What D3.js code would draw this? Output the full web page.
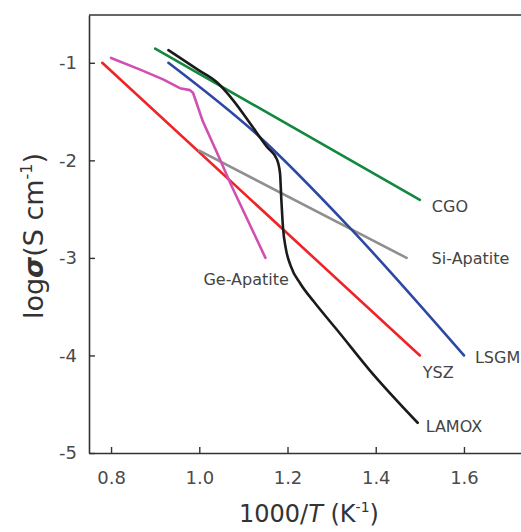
<!DOCTYPE html>
<html>
<head>
<meta charset="utf-8">
<script src="https://cdn.jsdelivr.net/npm/d3@7"></script>
<style>
  body { margin: 0; background: #fff; }
  svg { display: block; font-family: "DejaVu Sans", sans-serif; }
</style>
</head>
<body>
<div id="chart"></div>
<script>
// values: [1000/T, log sigma]
const ysz = [[0.78, -1.0], [1.5, -4.0]];
const cgo = [[0.9, -0.855], [1.5, -2.405]];
const lsgm = [[0.93, -1.0], [1.137, -1.76], [1.341, -2.69], [1.6, -4.0]];
const siApatite = [[1.0, -1.9], [1.47, -3.0]];
const geApatite = [
  [0.8, -0.95], [0.866, -1.07], [0.918, -1.17], [0.956, -1.26],
  [0.979, -1.28], [0.986, -1.31], [1.008, -1.6], [1.04, -1.92],
  [1.074, -2.27], [1.15, -3.0]
];
const lamox = [
  [0.93, -0.87], [1.0, -1.08], [1.04, -1.2], [1.076, -1.38],
  [1.115, -1.62], [1.153, -1.86], [1.176, -1.99], [1.183, -2.13],
  [1.186, -2.4], [1.19, -2.7], [1.196, -2.9], [1.207, -3.08],
  [1.23, -3.27], [1.26, -3.45], [1.318, -3.77], [1.386, -4.15],
  [1.495, -4.69]
];
const xTicks = [0.8, 1.0, 1.2, 1.4, 1.6];
const yTicks = [-1, -2, -3, -4, -5];

const series = [
  { name: "YSZ", data: ysz, color: "#ee2427", curve: d3.curveLinear, dx: 3, dy: 17 },
  { name: "CGO", data: cgo, color: "#11883d", curve: d3.curveLinear, dx: 12, dy: 7 },
  { name: "Si-Apatite", data: siApatite, color: "#8f8f8f", curve: d3.curveLinear, dx: 25, dy: 1 },
  { name: "Ge-Apatite", data: geApatite, color: "#d24fb2", curve: d3.curveLinear, dx: -62, dy: 22 },
  { name: "LSGM", data: lsgm, color: "#2d47a5", curve: d3.curveMonotoneX, dx: 11, dy: 2 },
  { name: "LAMOX", data: lamox, color: "#1a1a1a", curve: d3.curveMonotoneX, dx: 8, dy: 4 }
];

const W = 521, H = 532;
const svg = d3.select("#chart").append("svg")
  .attr("width", W)
  .attr("height", H);

const x = d3.scaleLinear().domain([0.75, 1.7293]).range([89, 521]);
const y = d3.scaleLinear().domain([-5, -0.51]).range([453, 15]);

// frame top line
svg.append("line")
  .attr("x1", x.range()[0]).attr("x2", x.range()[1])
  .attr("y1", y.range()[1]).attr("y2", y.range()[1])
  .attr("stroke", "#333").attr("stroke-width", 1.6);

const xAxis = svg.append("g")
  .attr("transform", `translate(0,${y.range()[0]})`)
  .call(d3.axisBottom(x).tickValues(xTicks).tickFormat(d3.format(".1f"))
    .tickSizeInner(-6).tickSizeOuter(0).tickPadding(18));

const yAxis = svg.append("g")
  .attr("transform", `translate(${x.range()[0]},0)`)
  .call(d3.axisLeft(y).tickValues(yTicks).tickFormat(d => String(d))
    .tickSizeInner(-6).tickSizeOuter(0).tickPadding(12));

[xAxis, yAxis].forEach(g => {
  g.select(".domain").attr("stroke", "#333").attr("stroke-width", 1.6);
  g.selectAll(".tick line").attr("stroke", "#333").attr("stroke-width", 1.4);
  g.selectAll(".tick text")
    .attr("fill", "#4a4a4a")
    .style("font-size", "18px")
    .style("font-family", "'DejaVu Sans', sans-serif");
});

const line = d3.line().x(d => x(d[0])).y(d => y(d[1]));

series.forEach(s => {
  svg.append("path")
    .datum(s.data)
    .attr("fill", "none")
    .attr("stroke", s.color)
    .attr("stroke-width", 2.6)
    .attr("stroke-linejoin", "round")
    .attr("stroke-linecap", "round")
    .attr("d", line.curve(s.curve));

  const last = s.data[s.data.length - 1];
  svg.append("text")
    .attr("x", x(last[0]) + s.dx)
    .attr("y", y(last[1]) + s.dy)
    .attr("dominant-baseline", "central")
    .attr("fill", "#444")
    .style("font-size", "16px")
    .text(s.name);
});

// axis titles
const xt = svg.append("text")
  .attr("x", 309)
  .attr("y", 522)
  .attr("text-anchor", "middle")
  .attr("fill", "#333")
  .style("font-size", "24px");
xt.append("tspan").text("1000/");
xt.append("tspan").style("font-style", "italic").text("T");
xt.append("tspan").text(" (K");
xt.append("tspan").attr("dy", -10).style("font-size", "14px").text("-1");
xt.append("tspan").attr("dy", 10).text(")");

const yt = svg.append("text")
  .attr("transform", "translate(43,236) rotate(-90)")
  .attr("text-anchor", "middle")
  .attr("fill", "#333")
  .style("font-size", "27px");
yt.append("tspan").text("log");
yt.append("tspan").style("font-style", "italic").style("font-weight", "bold").text("σ");
yt.append("tspan").text("(S cm");
yt.append("tspan").attr("dy", -11).style("font-size", "16px").text("-1");
yt.append("tspan").attr("dy", 11).text(")");
</script>
</body>
</html>
